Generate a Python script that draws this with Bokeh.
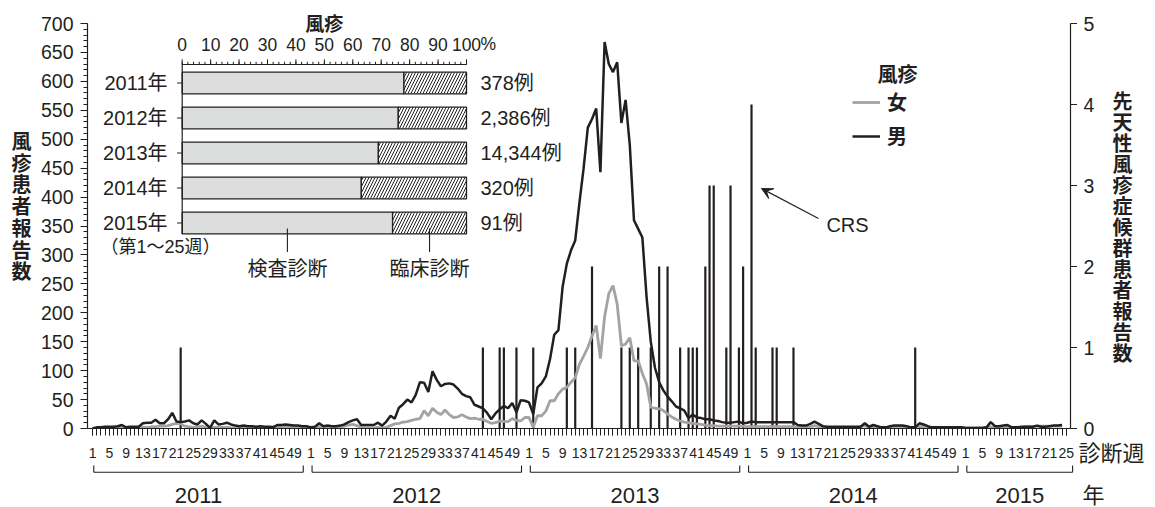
from bokeh.plotting import figure
from bokeh.layouts import row, column
from bokeh.models import (Range1d, LinearAxis, FixedTicker, ColumnDataSource,
                          Arrow, VeeHead, Legend, LegendItem)
from bokeh.core.properties import value
from bokeh.embed import file_html
from bokeh.resources import INLINE

# ---- weekly rubella reports by sex (diagnosis week) ----
years = [2011, 2012, 2013, 2014, 2015]
weeks_in_year = [52, 52, 52, 52, 25]

male_2011 = [0, 2, 2, 3, 3, 3, 4, 6, 2, 3, 3, 3, 9, 10, 10, 15, 9, 9, 16, 27,
             12, 11, 12, 14, 9, 7, 14, 8, 1, 14, 7, 8, 10, 7, 5, 4, 5, 4, 4, 3,
             4, 3, 3, 2, 6, 6, 7, 6, 5, 5, 4, 4]
female_2011 = [0, 1, 1, 1, 1, 1, 1, 1, 1, 1, 1, 1, 2, 2, 3, 3, 4, 4, 5, 7,
               9, 8, 4, 3, 2, 3, 4, 2, 1, 2, 2, 2, 2, 1, 1, 1, 1, 1, 1, 1,
               1, 1, 2, 3, 3, 3, 3, 3, 3, 3, 3, 3]
male_2012 = [2, 3, 9, 4, 5, 4, 4, 5, 7, 11, 14, 16, 6, 6, 6, 6, 10, 5, 12, 22,
             17, 36, 42, 50, 45, 58, 80, 79, 63, 99, 84, 73, 77, 78, 76, 69, 60, 56, 54, 41,
             38, 35, 27, 16, 26, 33, 39, 35, 44, 28, 49, 48]
female_2012 = [1, 2, 3, 2, 1, 1, 2, 3, 4, 6, 7, 5, 2, 1, 1, 1, 2, 1, 2, 5,
               8, 9, 11, 12, 14, 16, 17, 31, 22, 35, 28, 24, 32, 24, 19, 20, 24, 20, 17, 18,
               16, 16, 12, 9, 10, 13, 12, 12, 17, 14, 13, 19]
male_2013 = [45, 25, 71, 78, 90, 120, 162, 170, 245, 285, 308, 325, 390, 450, 520, 535, 553, 443, 668, 630,
             616, 633, 528, 568, 490, 360, 345, 330, 227, 150, 105, 80, 66, 55, 47, 38, 35, 31, 18, 24,
             19, 18, 16, 16, 14, 13, 11, 10, 10, 11, 12, 9]
female_2013 = [19, 2, 22, 22, 30, 48, 48, 60, 68, 71, 80, 88, 111, 125, 140, 160, 178, 121, 193, 233,
               247, 215, 143, 146, 157, 117, 117, 95, 77, 37, 35, 34, 31, 25, 20, 16, 13, 11, 10, 9,
               8, 7, 6, 5, 5, 4, 4, 4, 4, 4, 4, 4]
male_2014 = [10, 12, 11, 11, 11, 11, 11, 11, 11, 11, 11, 11, 6, 5, 5, 8, 12, 8, 4, 3,
             3, 3, 3, 3, 3, 3, 3, 3, 9, 3, 6, 4, 2, 2, 4, 5, 5, 5, 4, 2,
             2, 9, 7, 4, 2, 2, 2, 2, 2, 2, 2, 2]
female_2014 = [3, 3, 3, 3, 3, 3, 3, 3, 3, 3, 3, 3, 2, 2, 2, 3, 5, 3, 2, 2,
               2, 2, 2, 2, 2, 2, 2, 3, 5, 2, 2, 2, 1, 1, 2, 2, 2, 2, 1, 1,
               2, 3, 3, 2, 1, 1, 1, 1, 1, 1, 1, 1]
male_2015 = [1, 1, 1, 1, 1, 2, 11, 4, 4, 5, 6, 2, 2, 2, 3, 3, 3, 5, 3, 3, 4, 5, 5, 6]
female_2015 = [1, 1, 1, 1, 1, 2, 3, 2, 2, 2, 2, 2, 2, 3, 3, 3, 3, 4, 4, 4, 4, 4, 4, 4]

# ---- congenital rubella syndrome reports (year, week, count) ----
crs_year = [2011, 2012, 2012, 2012, 2012,
            2013, 2013, 2013, 2013, 2013, 2013, 2013, 2013, 2013, 2013, 2013,
            2013, 2013, 2013, 2013, 2013, 2013, 2013, 2013, 2013, 2013,
            2014, 2014, 2014, 2014, 2014, 2014]
crs_week = [22, 42, 46, 47, 50,
            2, 10, 12, 16, 23, 25, 27, 30, 32, 34, 37,
            39, 40, 41, 43, 44, 45, 48, 49, 51, 52,
            2, 3, 7, 8, 12, 41]
crs_count = [1, 1, 1, 1, 1,
             1, 1, 1, 2, 1, 1, 1, 1, 2, 2, 1,
             1, 1, 1, 2, 3, 3, 1, 3, 1, 2,
             4, 1, 1, 1, 1, 1]
crs_ticks = [0, 1, 2, 3, 4, 5]

# ---- inset: share of laboratory-confirmed diagnoses ----
inset_years = ["2011年", "2012年", "2013年", "2014年", "2015年"]
inset_lab_pct = [78, 76, 69, 63, 74]
inset_cases = ["378例", "2,386例", "14,344例", "320例", "91例"]
inset_ticks = [0, 10, 20, 30, 40, 50, 60, 70, 80, 90, 100]

# ---- page geometry (canvas pixels) ----
W, H = 1155, 507
LEFT_W = 35            # strip holding the left title
RIGHT_X = 1077         # full-height strip: CRS scale numbers, titles on the right
TOP_H = 440            # upper row; the lower strip holds week numbers and years
FL, FR, FB = 87, 1070, 428
Y700 = 23
X0, X1 = -1.2, 233.0
PXX = (FR - FL) / (X1 - X0)
PXY = (FB - Y700) / 700.0
PXC = (FB - Y700) / 5.0


def xd(px):
    return X0 + (px - FL) / PXX


def yd(py):
    return (FB - py) / PXY


def cd(py):
    return (FB - py) / PXC


# inset scales (percent across, category down)
P0, P100 = 181.7, 466.0
PPP = (P100 - P0) / 100.0
C0, CP = 82.5, 35.0


def pc(px):
    return (px - P0) / PPP


def ct(py):
    return (py - C0) / CP


BLACK = "#231f20"
GRAY = "#a3a3a3"
BARGRAY = "#dcdddd"
LAT = "Liberation Sans"
JP = "Noto Sans CJK JP"
MIX = "Liberation Sans, Noto Sans CJK JP"

offsets = {}
acc = 0
for yr, n in zip(years, weeks_in_year):
    offsets[yr] = acc
    acc += n

male = male_2011 + male_2012 + male_2013 + male_2014 + male_2015
female = female_2011 + female_2012 + female_2013 + female_2014 + female_2015
idx = list(range(len(male)))
crs_idx = [offsets[y] + w - 1 for y, w in zip(crs_year, crs_week)]

# week ticks: every week, numbered every fourth week
major, minor, week_lab = [], [], []
for yr, n in zip(years, weeks_in_year):
    for w in range(1, n + 1):
        i = offsets[yr] + w - 1
        minor.append(i)
        if (w - 1) % 4 == 0:
            major.append(i)
            week_lab.append(str(w))


def strip(width, height, xr, yr_, bottom_border=0):
    return figure(width=width, height=height, output_backend="svg", toolbar_location=None,
                  title=None, x_axis_type=None, y_axis_type=None, x_range=xr, y_range=yr_,
                  min_border=0, min_border_bottom=bottom_border, outline_line_color=None,
                  background_fill_color="white", border_fill_color="white")


# ================= main plot =================
p = figure(width=RIGHT_X - LEFT_W, height=TOP_H, output_backend="svg", toolbar_location=None,
           title=None, x_range=Range1d(X0, X1), y_range=Range1d(0, yd(0)),
           min_border_left=FL - LEFT_W, min_border_right=RIGHT_X - FR,
           min_border_top=0, min_border_bottom=TOP_H - FB,
           outline_line_color=None, background_fill_color="white",
           border_fill_color="white")
p.xgrid.visible = False
p.ygrid.visible = False
p.extra_y_ranges = {"crs": Range1d(0, cd(0)), "cat": Range1d(ct(FB), ct(0))}
p.extra_x_ranges = {"pct": Range1d(pc(FL), pc(FR))}

xa = p.xaxis[0]
xa.ticker = FixedTicker(ticks=major, minor_ticks=minor)
xa.major_label_overrides = {t: "" for t in major}
xa.major_label_text_font_size = "0px"
xa.major_label_standoff = 0
xa.major_tick_in = 0
xa.major_tick_out = 7
xa.minor_tick_in = 0
xa.minor_tick_out = 7
xa.axis_line_width = 1.2
xa.axis_line_color = BLACK
xa.major_tick_line_color = BLACK
xa.minor_tick_line_color = BLACK

ya = p.yaxis[0]
ya.bounds = (0, 700)
ya.ticker = FixedTicker(ticks=list(range(0, 701, 50)), minor_ticks=list(range(0, 701, 10)))
ya.major_tick_in = 0
ya.major_tick_out = 7
ya.minor_tick_in = 0
ya.minor_tick_out = 4
ya.axis_line_width = 1.2
ya.axis_line_color = BLACK
ya.major_tick_line_color = BLACK
ya.minor_tick_line_color = BLACK
ya.major_label_text_font = LAT
ya.major_label_text_font_size = "19.5px"
ya.major_label_text_color = BLACK
ya.major_label_standoff = 7

# CRS axis: line and ticks here, its numbers are set in the right strip
ra = LinearAxis(y_range_name="crs", ticker=FixedTicker(ticks=crs_ticks), bounds=(0, 5))
ra.major_tick_in = 0
ra.major_tick_out = 7
ra.minor_tick_line_color = None
ra.axis_line_width = 1.2
ra.axis_line_color = BLACK
ra.major_tick_line_color = BLACK
ra.major_label_overrides = {t: "" for t in crs_ticks}
ra.major_label_text_font_size = "0px"
ra.major_label_standoff = 0
p.add_layout(ra, "right")

# CRS bars and weekly lines
p.segment(x0=crs_idx, y0=[0] * len(crs_idx), x1=crs_idx, y1=crs_count,
          y_range_name="crs", line_color=BLACK, line_width=2.2)
rf = p.line(idx, female, line_color=GRAY, line_width=2.8)
rm = p.line(idx, male, line_color=BLACK, line_width=2.5)

legend = Legend(items=[LegendItem(label="女", renderers=[rf]),
                       LegendItem(label="男", renderers=[rm])],
                location=(765, 278), orientation="vertical",
                padding=0, margin=0, spacing=5,
                glyph_width=28, glyph_height=20, label_height=20,
                label_standoff=7, border_line_color=None,
                background_fill_alpha=0,
                label_text_font=JP, label_text_font_size="20px",
                label_text_font_style="bold", label_text_color=BLACK)
p.add_layout(legend)
p.text(x=[xd(897)], y=[yd(73)], text=["風疹"], text_font=value(JP), text_font_size="20px",
       text_font_style="bold", text_color=BLACK, text_align="center", text_baseline="middle")

# CRS pointer
p.add_layout(Arrow(end=VeeHead(size=11, fill_color=BLACK, line_color=BLACK, line_width=1),
                   x_start=xd(818), y_start=yd(218), x_end=xd(761), y_end=yd(188),
                   line_color=BLACK, line_width=1.2))
p.text(x=[xd(847)], y=[yd(224)], text=["CRS"], text_font=value(LAT), text_font_size="20px",
       text_color=BLACK, text_align="center", text_baseline="middle")

# ---- inset bar chart ----
cats = list(range(len(inset_years)))
src = ColumnDataSource(dict(cat=cats, lab=inset_lab_pct, year=inset_years, cases=inset_cases,
                            full=[100] * len(cats)))
kw = dict(x_range_name="pct", y_range_name="cat")
p.hbar(y="cat", left=0, right="lab", height=0.62, source=src, fill_color=BARGRAY,
       line_color=BLACK, line_width=1.3, **kw)
p.hbar(y="cat", left="lab", right="full", height=0.62, source=src, fill_color="white",
       hatch_pattern="/", hatch_color=BLACK, hatch_scale=6, hatch_weight=1,
       line_color=BLACK, line_width=1.3, **kw)

base_y = ct(64)
p.segment(x0=[0], y0=[base_y], x1=[100], y1=[base_y], line_color=BLACK, line_width=1, **kw)
p.segment(x0=[0], y0=[base_y], x1=[0], y1=[ct(233.5)], line_color=BLACK, line_width=1.2, **kw)
minor_pct = list(range(0, 101, 2))
p.segment(x0=minor_pct, y0=[base_y] * len(minor_pct), x1=minor_pct,
          y1=[ct(61.3)] * len(minor_pct), line_color=BLACK, line_width=1, **kw)
p.segment(x0=inset_ticks, y0=[base_y] * len(inset_ticks), x1=inset_ticks,
          y1=[ct(58.8)] * len(inset_ticks), line_color=BLACK, line_width=1, **kw)
p.segment(x0=[pc(176.5)] * len(cats), y0=cats, x1=[0] * len(cats), y1=cats,
          line_color=BLACK, line_width=1, **kw)

p.text(x=inset_ticks, y=[ct(43.5)] * len(inset_ticks), text=[str(t) for t in inset_ticks],
       text_font=value(LAT), text_font_size="17.5px", text_color=BLACK,
       text_align="center", text_baseline="middle", **kw)
p.text(x=[100], y=[ct(43.5)], text=["%"], x_offset=14,
       text_font=value(LAT), text_font_size="17.5px", text_color=BLACK,
       text_align="left", text_baseline="middle", **kw)
p.text(x=[50], y=[ct(21.5)], text=["風疹"], text_font=value(JP), text_font_size="19px",
       text_font_style="bold", text_color=BLACK, text_align="center",
       text_baseline="middle", **kw)

p.text(x=pc(167), y="cat", text="year", source=src, text_font=value(MIX),
       text_font_size="20px", text_color=BLACK, text_align="right",
       text_baseline="middle", **kw)
p.text(x=pc(480), y="cat", text="cases", source=src, text_font=value(MIX),
       text_font_size="20px", text_color=BLACK, text_align="left",
       text_baseline="middle", **kw)
p.text(x=[pc(100)], y=[ct(246.5)], text=["（第1〜25週）"], text_font=value(MIX),
       text_font_size="18px", text_color=BLACK, text_align="left",
       text_baseline="middle", **kw)

last = len(cats) - 1
lead_x = [inset_lab_pct[last] / 2, (inset_lab_pct[last] + 100) / 2]
p.segment(x0=lead_x, y0=[ct(228)] * 2, x1=lead_x, y1=[ct(251.5)] * 2,
          line_color=BLACK, line_width=1.1, **kw)
p.text(x=lead_x, y=[ct(266.5)] * 2, text=["検査診断", "臨床診断"], text_font=value(JP),
       text_font_size="20px", text_color=BLACK, text_align="center",
       text_baseline="middle", **kw)

# ================= left strip: y-axis title =================
left = strip(LEFT_W, TOP_H, Range1d(0, LEFT_W), Range1d(FB, 0), TOP_H - FB)
lt = "風疹患者報告数"
left.text(x=[21] * len(lt), y=[140 + 21.7 * k for k in range(len(lt))], text=list(lt),
          text_font=value(JP), text_font_size="20px", text_font_style="bold",
          text_color=BLACK, text_align="center", text_baseline="middle")

# ================= bottom strip: week numbers and year brackets =================
bottom = strip(RIGHT_X, H - TOP_H, Range1d(xd(0), xd(RIGHT_X)), Range1d(H, TOP_H))
bottom.text(x=major, y=[452.5] * len(major), text=week_lab, text_font=value(LAT),
            text_font_size="14px", text_color=BLACK, text_align="center",
            text_baseline="middle")

yb, yt = 471.7, 465
bx0, by0, bx1, by1, cx, lab = [], [], [], [], [], []
for yr, n in zip(years, weeks_in_year):
    a = offsets[yr] + 0.3
    b = offsets[yr] + (50.2 if n == 52 else n + 0.5)
    for (xs, ys, xe, ye) in [(a, yt, a, yb), (a, yb, b, yb), (b, yb, b, yt)]:
        bx0.append(xs); by0.append(ys); bx1.append(xe); by1.append(ye)
    cx.append((a + b) / 2)
    lab.append(str(yr))
bottom.segment(x0=bx0, y0=by0, x1=bx1, y1=by1, line_color=BLACK, line_width=1.1)
bottom.text(x=cx, y=[494.5] * len(cx), text=lab, text_font=value(LAT), text_font_size="22px",
            text_color=BLACK, text_align="center", text_baseline="middle")

# ================= right strip: CRS numbers, titles =================
right = strip(W - RIGHT_X, H, Range1d(RIGHT_X, W), Range1d(cd(H), cd(0)))
right.text(x=[1083] * len(crs_ticks), y=crs_ticks, text=[str(t) for t in crs_ticks],
           text_font=value(LAT), text_font_size="19.5px", text_color=BLACK,
           text_align="left", text_baseline="middle")
rt = "先天性風疹症候群患者報告数"
right.text(x=[1122] * len(rt), y=[cd(100 + 21.0 * k) for k in range(len(rt))], text=list(rt),
           text_font=value(JP), text_font_size="20px", text_font_style="bold",
           text_color=BLACK, text_align="center", text_baseline="middle")
right.text(x=[1078], y=[cd(450)], text=["診断週"], text_font=value(JP),
           text_font_size="22px", text_color=BLACK, text_align="left",
           text_baseline="middle")
right.text(x=[1093], y=[cd(492)], text=["年"], text_font=value(JP), text_font_size="22px",
           text_color=BLACK, text_align="center", text_baseline="middle")

layout = row(column(row(left, p, spacing=0), bottom, spacing=0), right, spacing=0)
open("out.html", "w").write(file_html(layout, INLINE))
